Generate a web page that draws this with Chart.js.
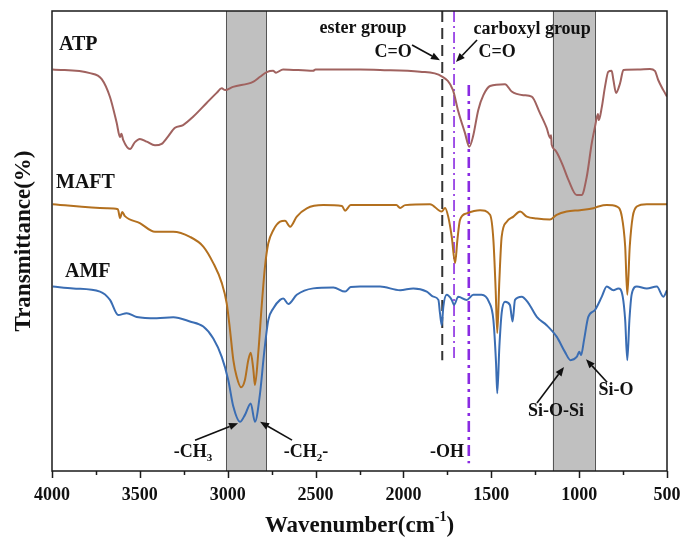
<!DOCTYPE html>
<html>
<head>
<meta charset="utf-8">
<script src="https://cdn.jsdelivr.net/npm/chart.js@4/dist/chart.umd.min.js"></script>
<style>
  html, body { margin: 0; padding: 0; background: #fff; }
  canvas { display: block; }
</style>
</head>
<body>
<canvas id="ftir" width="682" height="545"></canvas>
<script>
// FTIR spectra of ATP, MAFT and AMF (transmittance, arbitrary offset units)

const atpWave = [3996, 3784, 3717, 3670, 3632, 3613, 3605, 3595, 3556, 3528, 3500, 3461, 3414, 3376, 3340, 3300, 3254, 3197, 3120, 3063, 3034, 3015, 2970, 2856, 2816, 2778, 2742, 2725, 2685, 2514, 2500, 2247, 2133, 1906, 1782, 1718, 1690, 1650, 1625, 1604, 1574, 1545, 1507, 1422, 1384, 1318, 1270, 1223, 1185, 1165, 1160, 1156, 1137, 1099, 1061, 1014, 986, 957, 928, 910, 893, 888, 871, 853, 834, 815, 805, 790, 767, 748, 665, 597, 569, 550, 521, 500];
const atpT = [87.3, 86.5, 85.2, 81.3, 75.7, 72.6, 73.3, 72.0, 70.0, 71.5, 72.2, 71.6, 70.8, 71.1, 72.7, 74.6, 75.2, 77.0, 80.0, 82.2, 83.2, 82.8, 83.5, 84.6, 85.7, 86.7, 87.0, 86.6, 87.3, 87.0, 87.3, 87.3, 87.2, 86.8, 85.8, 82.8, 78.5, 73.5, 70.5, 72.7, 78.5, 81.7, 83.7, 84.1, 82.5, 81.7, 81.4, 77.8, 74.6, 72.4, 73.0, 70.9, 69.8, 67.0, 63.3, 60.0, 60.0, 63.9, 71.3, 74.8, 77.6, 76.3, 79.1, 83.5, 86.8, 87.0, 85.0, 82.2, 84.3, 87.2, 87.3, 87.4, 87.0, 85.0, 82.8, 81.4];

const maftWave = [3996, 3689, 3625, 3613, 3600, 3585, 3500, 3414, 3310, 3215, 3139, 3082, 3034, 3006, 2987, 2968, 2949, 2924, 2902, 2883, 2869, 2854, 2845, 2826, 2807, 2788, 2769, 2740, 2702, 2674, 2645, 2607, 2550, 2456, 2350, 2332, 2300, 2247, 2133, 2040, 2019, 1990, 1849, 1782, 1763, 1745, 1725, 1706, 1693, 1678, 1640, 1564, 1507, 1488, 1475, 1466, 1454, 1441, 1412, 1374, 1336, 1298, 1241, 1166, 1128, 1071, 995, 919, 890, 843, 786, 757, 738, 726, 712, 695, 672, 615, 500];
const maftT = [58.0, 57.1, 56.9, 55.0, 56.3, 55.4, 53.9, 52.0, 52.0, 50.9, 48.8, 45.2, 40.9, 36.5, 30.7, 24.1, 20.5, 18.2, 19.8, 24.1, 25.7, 22.0, 18.7, 25.7, 35.7, 44.4, 49.5, 52.4, 54.2, 54.4, 53.1, 55.3, 57.1, 57.8, 57.6, 56.6, 57.8, 57.8, 57.8, 57.8, 57.2, 57.8, 58.0, 56.4, 57.2, 55.3, 50.9, 45.2, 50.2, 54.6, 56.0, 56.7, 55.7, 50.2, 39.3, 30.0, 41.5, 50.9, 54.2, 55.3, 56.4, 55.3, 54.9, 54.7, 55.7, 56.4, 56.7, 57.1, 57.5, 57.8, 57.5, 55.3, 48.8, 38.3, 48.8, 55.3, 57.5, 58.0, 58.0];

const amfWave = [3996, 3879, 3727, 3670, 3623, 3575, 3518, 3404, 3310, 3215, 3139, 3082, 3034, 2997, 2968, 2930, 2902, 2869, 2845, 2816, 2793, 2769, 2740, 2702, 2684, 2655, 2607, 2513, 2399, 2332, 2300, 2247, 2133, 2019, 1944, 1867, 1830, 1801, 1792, 1782, 1773, 1754, 1725, 1712, 1688, 1640, 1602, 1555, 1514, 1488, 1473, 1466, 1454, 1441, 1422, 1394, 1379, 1365, 1327, 1289, 1241, 1185, 1128, 1081, 1049, 1014, 999, 989, 972, 948, 910, 871, 843, 805, 777, 752, 738, 726, 714, 701, 672, 615, 558, 521, 500];
const amfT = [40.1, 39.7, 39.0, 37.2, 33.9, 34.3, 33.5, 33.2, 33.4, 32.5, 31.4, 28.8, 24.8, 19.8, 14.0, 10.7, 12.2, 14.7, 10.7, 16.9, 25.6, 32.8, 35.4, 37.2, 37.5, 36.3, 38.3, 39.7, 39.9, 39.0, 40.0, 40.1, 40.1, 39.3, 39.7, 39.0, 37.9, 37.2, 34.3, 31.7, 35.7, 38.3, 37.2, 36.1, 37.9, 37.2, 38.3, 38.3, 36.8, 32.8, 23.5, 16.9, 27.0, 34.3, 36.8, 36.1, 32.5, 37.2, 37.9, 36.5, 33.5, 31.7, 29.2, 25.9, 24.1, 24.8, 25.9, 25.2, 28.5, 33.5, 35.0, 37.9, 40.1, 39.3, 39.7, 37.9, 32.8, 24.1, 32.8, 38.4, 40.1, 39.7, 40.1, 37.9, 39.3];

// Reference lines: ester C=O, carboxyl C=O, -OH
const refWave = [1779, 1712, 1628];
const refTop = [100, 100, 83.9];
const refBottom = [24.1, 23.8, 1.7];

// Shaded absorption regions (cm-1)
const bandFrom = [3010, 1150];
const bandTo = [2780, 910];

// Axis ticks
const xTickValues = [4000, 3500, 3000, 2500, 2000, 1500, 1000, 500];
const xTickLabels = ['4000', '3500', '3000', '2500', '2000', '1500', '1000', '500'];

const FONT = "'Liberation Serif', 'Times New Roman', serif";

function pairs(xs, ys) { return xs.map((x, i) => ({ x: x, y: ys[i] })); }

const curveStyle = { pointRadius: 0, borderWidth: 2, fill: false, cubicInterpolationMode: 'monotone' };

const datasets = [
  Object.assign({ label: 'ATP', data: pairs(atpWave, atpT), borderColor: '#a0625f' }, curveStyle),
  Object.assign({ label: 'MAFT', data: pairs(maftWave, maftT), borderColor: '#b3701f' }, curveStyle),
  Object.assign({ label: 'AMF', data: pairs(amfWave, amfT), borderColor: '#3a6db3' }, curveStyle),
  { label: 'ester C=O', data: [{ x: refWave[0], y: refTop[0] }, { x: refWave[0], y: refBottom[0] }],
    borderColor: '#333333', borderWidth: 2, borderDash: [11, 6], pointRadius: 0 },
  { label: 'carboxyl C=O', data: [{ x: refWave[1], y: refTop[1] }, { x: refWave[1], y: refBottom[1] }],
    borderColor: '#8a2be2', borderWidth: 1.6, borderDash: [11, 4, 2, 4], pointRadius: 0 },
  { label: '-OH', data: [{ x: refWave[2], y: refTop[2] }, { x: refWave[2], y: refBottom[2] }],
    borderColor: '#8a2be2', borderWidth: 2.6, borderDash: [11, 5, 3, 5], pointRadius: 0 }
];

// Text labels placed in data coordinates (wavenumber, level)
const notes = [
  { parts: [{ t: 'ATP' }], w: 3960, v: 92.6, size: 20, align: 'left' },
  { parts: [{ t: 'MAFT' }], w: 3977, v: 62.6, size: 20, align: 'left' },
  { parts: [{ t: 'AMF' }], w: 3926, v: 43.3, size: 20, align: 'left' },
  { parts: [{ t: 'ester group' }], w: 2230, v: 96.3, size: 18, align: 'center' },
  { parts: [{ t: 'C=O' }], w: 2059, v: 91.1, size: 18, align: 'center' },
  { parts: [{ t: 'carboxyl group' }], w: 1268, v: 96.1, size: 18, align: 'center' },
  { parts: [{ t: 'C=O' }], w: 1467, v: 91.1, size: 18, align: 'center' },
  { parts: [{ t: '-CH' }, { t: '3', sub: true }], w: 3198, v: 4.1, size: 18, align: 'center' },
  { parts: [{ t: '-CH' }, { t: '2', sub: true }, { t: '-' }], w: 2554, v: 4.1, size: 18, align: 'center' },
  { parts: [{ t: '-OH' }], w: 1752, v: 4.1, size: 18, align: 'center' },
  { parts: [{ t: 'Si-O-Si' }], w: 1132, v: 13.0, size: 18, align: 'center' },
  { parts: [{ t: 'Si-O' }], w: 790, v: 17.6, size: 18, align: 'center' }
];

// Arrows from label to peak, data coordinates
const arrows = [
  { w0: 1951, v0: 92.6, w1: 1792, v1: 89.3 },
  { w0: 1581, v0: 93.7, w1: 1701, v1: 88.9 },
  { w0: 3186, v0: 6.7, w1: 2941, v1: 10.4 },
  { w0: 2634, v0: 6.7, w1: 2816, v1: 10.7 },
  { w0: 1240, v0: 14.8, w1: 1086, v1: 22.6 },
  { w0: 841, v0: 19.3, w1: 961, v1: 24.3 }
];

function richText(ctx, parts, x, y, size, align) {
  const subSize = Math.round(size * 0.62);
  let total = 0;
  const widths = parts.map(p => {
    ctx.font = 'bold ' + ((p.sub || p.sup) ? subSize : size) + 'px ' + FONT;
    const w = ctx.measureText(p.t).width;
    total += w;
    return w;
  });
  let cx = align === 'center' ? x - total / 2 : (align === 'right' ? x - total : x);
  ctx.textAlign = 'left';
  ctx.textBaseline = 'middle';
  parts.forEach((p, i) => {
    ctx.font = 'bold ' + ((p.sub || p.sup) ? subSize : size) + 'px ' + FONT;
    const dy = p.sub ? size * 0.32 : (p.sup ? -size * 0.38 : 0);
    ctx.fillText(p.t, cx, y + dy);
    cx += widths[i];
  });
}

function arrow(ctx, x0, y0, x1, y1) {
  const ang = Math.atan2(y1 - y0, x1 - x0);
  const head = 9, half = 3.6;
  const bx = x1 - head * Math.cos(ang), by = y1 - head * Math.sin(ang);
  ctx.beginPath();
  ctx.moveTo(x0, y0);
  ctx.lineTo(bx, by);
  ctx.lineWidth = 1.6;
  ctx.strokeStyle = '#111';
  ctx.stroke();
  ctx.beginPath();
  ctx.moveTo(x1, y1);
  ctx.lineTo(bx + half * Math.sin(ang), by - half * Math.cos(ang));
  ctx.lineTo(bx - half * Math.sin(ang), by + half * Math.cos(ang));
  ctx.closePath();
  ctx.fillStyle = '#111';
  ctx.fill();
}

const bandsPlugin = {
  id: 'bands',
  beforeDatasetsDraw(chart) {
    const { ctx, chartArea: a, scales: { x } } = chart;
    ctx.save();
    bandFrom.forEach((f, i) => {
      const x0 = x.getPixelForValue(f), x1 = x.getPixelForValue(bandTo[i]);
      ctx.fillStyle = '#c0c0c0';
      ctx.fillRect(x0, a.top, x1 - x0, a.bottom - a.top);
      ctx.strokeStyle = '#555';
      ctx.lineWidth = 1;
      ctx.beginPath();
      ctx.moveTo(Math.round(x0) + 0.5, a.top); ctx.lineTo(Math.round(x0) + 0.5, a.bottom);
      ctx.moveTo(Math.round(x1) + 0.5, a.top); ctx.lineTo(Math.round(x1) + 0.5, a.bottom);
      ctx.stroke();
    });
    ctx.restore();
  }
};

const framePlugin = {
  id: 'frame',
  afterDraw(chart) {
    const { ctx, chartArea: a, scales: { x, y } } = chart;
    ctx.save();
    // box
    ctx.strokeStyle = '#1a1a1a';
    ctx.lineWidth = 1.5;
    ctx.strokeRect(a.left, a.top, a.right - a.left, a.bottom - a.top);
    // ticks: major every 500, minor every 250
    ctx.beginPath();
    for (let w = 500; w <= 4000; w += 250) {
      const px = Math.round(x.getPixelForValue(w)) + 0.5;
      const len = (w % 500 === 0) ? 7 : 4;
      ctx.moveTo(px, a.bottom);
      ctx.lineTo(px, a.bottom + len);
    }
    ctx.lineWidth = 1.5;
    ctx.stroke();
    // tick labels
    ctx.fillStyle = '#111';
    xTickValues.forEach((v, i) => {
      richText(ctx, [{ t: xTickLabels[i] }], x.getPixelForValue(v), a.bottom + 24, 18, 'center');
    });
    // axis titles
    richText(ctx, [{ t: 'Wavenumber(cm' }, { t: '-1', sup: true }, { t: ')' }],
      (a.left + a.right) / 2, a.bottom + 55, 23, 'center');
    ctx.save();
    ctx.translate(24, (a.top + a.bottom) / 2);
    ctx.rotate(-Math.PI / 2);
    richText(ctx, [{ t: 'Transmittance(%)' }], 0, 0, 23, 'center');
    ctx.restore();
    // annotations
    notes.forEach(n => {
      richText(ctx, n.parts, x.getPixelForValue(n.w), y.getPixelForValue(n.v), n.size, n.align);
    });
    arrows.forEach(r => {
      arrow(ctx, x.getPixelForValue(r.w0), y.getPixelForValue(r.v0), x.getPixelForValue(r.w1), y.getPixelForValue(r.v1));
    });
    ctx.restore();
  }
};

new Chart(document.getElementById('ftir'), {
  type: 'line',
  data: { datasets: datasets },
  options: {
    responsive: false,
    animation: false,
    events: [],
    layout: { padding: { top: 11, right: 15, left: 0, bottom: 0 } },
    plugins: { legend: { display: false }, tooltip: { enabled: false } },
    scales: {
      x: {
        type: 'linear', reverse: true, min: 500, max: 4000,
        afterFit(s) { s.height = 74; },
        ticks: { display: false }, grid: { display: false }, border: { display: false }
      },
      y: {
        type: 'linear', min: 0, max: 100,
        afterFit(s) { s.width = 52; },
        ticks: { display: false }, grid: { display: false }, border: { display: false }
      }
    }
  },
  plugins: [bandsPlugin, framePlugin]
});
</script>
</body>
</html>
